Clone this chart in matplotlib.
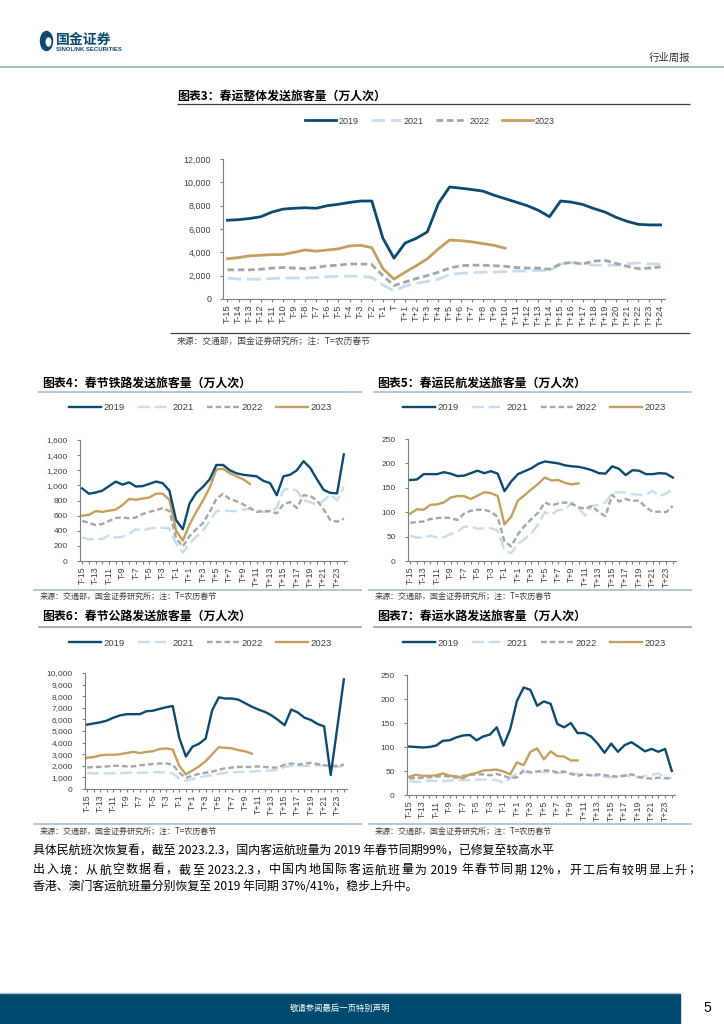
import re
import numpy as np
import matplotlib
matplotlib.use("Agg")
import matplotlib.pyplot as plt
from matplotlib.patches import Rectangle, Ellipse
from matplotlib.ticker import FuncFormatter

plt.rcParams["font.family"] = ["Liberation Sans", "Noto Sans CJK SC", "DejaVu Sans"]

W, H = 724, 1024

# x categories: T-15 ... T+24
days = [f"T{d:+d}" if d != 0 else "T" for d in range(-15, 25)]

# 图表3 春运整体
total_2019 = [6750, 6800, 6900, 7050, 7450, 7700, 7780, 7820, 7780, 8000,
              8120, 8280, 8400, 8400, 5200, 3500, 4800, 5200, 5750, 8200,
              9600, 9500, 9380, 9250, 8900, 8600, 8300, 8000, 7600, 7050,
              8400, 8300, 8100, 7750, 7450, 7000, 6650, 6400, 6350, 6350]
total_2021 = [1800, 1700, 1700, 1700, 1750, 1800, 1800, 1800, 1850, 1900,
              1950, 1950, 1950, 1850, 1200, 700, 1100, 1350, 1500, 1700,
              2100, 2200, 2250, 2300, 2300, 2350, 2400, 2400, 2450, 2450,
              3000, 3100, 3000, 2900, 2900, 2900, 3000, 3100, 3000, 3000]
total_2022 = [2500, 2500, 2500, 2550, 2650, 2700, 2650, 2600, 2700, 2850,
              2900, 3000, 3000, 2950, 2000, 1150, 1450, 1750, 2000, 2300,
              2650, 2850, 2900, 2900, 2850, 2800, 2700, 2650, 2650, 2550,
              3000, 3150, 3000, 3250, 3300, 3050, 2800, 2600, 2650, 2750]
total_2023 = [3450, 3550, 3700, 3750, 3800, 3820, 4000, 4200, 4100, 4200,
              4300, 4550, 4600, 4400, 2600, 1700, 2300, 2850, 3450, 4300,
              5050, 5000, 4900, 4750, 4600, 4350]

# 图表4 铁路
rail_2019 = [960, 890, 905, 930, 990, 1050, 1010, 1040, 985, 990,
             1020, 1050, 1030, 930, 540, 420, 760, 900, 980, 1080,
             1270, 1270, 1200, 1160, 1140, 1130, 1120, 1060, 1030, 870,
             1120, 1140, 1200, 1320, 1230, 1080, 940, 900, 895, 1410]
rail_2021 = [310, 285, 295, 290, 340, 310, 320, 360, 420, 400,
             430, 440, 440, 430, 230, 110, 230, 320, 400, 530,
             660, 670, 660, 660, 680, 690, 660, 650, 650, 700,
             940, 960, 930, 800, 780, 740, 800, 880, 800, 980]
rail_2022 = [530, 505, 475, 490, 530, 570, 575, 565, 575, 620,
             650, 670, 700, 660, 300, 190, 330, 420, 500, 650,
             820, 890, 820, 790, 750, 700, 650, 660, 660, 630,
             750, 780, 700, 870, 860, 800, 680, 540, 520, 560]
rail_2023 = [600, 610, 660, 650, 665, 680, 740, 820, 810, 825,
             840, 890, 890, 810, 400, 270, 480, 650, 800, 970,
             1210, 1220, 1160, 1120, 1080, 1020]

# 图表5 民航
air_2019 = [166, 167, 178, 178, 178, 182, 179, 174, 175, 180,
            185, 180, 184, 179, 143, 163, 178, 184, 190, 199,
            204, 202, 200, 196, 194, 193, 190, 186, 180, 179,
            194, 189, 176, 186, 185, 178, 178, 180, 179, 171]
air_2021 = [52, 48, 48, 52, 48, 49, 55, 60, 70, 71,
            66, 67, 67, 62, 22, 16, 35, 45, 57, 75,
            100, 95, 105, 105, 120, 108, 93, 113, 115, 120,
            140, 141, 140, 137, 136, 135, 144, 133, 138, 148]
air_2022 = [78, 80, 81, 86, 88, 89, 88, 84, 97, 103,
            105, 105, 101, 90, 40, 30, 55, 72, 86, 99,
            120, 114, 118, 120, 117, 110, 107, 113, 100, 92,
            136, 122, 127, 123, 124, 110, 101, 101, 100, 113]
air_2023 = [97, 106, 105, 115, 116, 120, 130, 133, 133, 127,
            134, 141, 139, 133, 75, 91, 124, 135, 147, 158,
            171, 165, 166, 160, 157, 159]

# 图表6 公路
road_2019 = [5550, 5650, 5750, 5900, 6150, 6350, 6450, 6450, 6450, 6700,
             6750, 6900, 7050, 7150, 4400, 2800, 3650, 3900, 4350, 6800,
             7900, 7800, 7800, 7700, 7400, 7100, 6850, 6650, 6350, 5950,
             5500, 6850, 6600, 6150, 5950, 5600, 5400, 1200, 5300, 9450]
road_2021 = [1400, 1350, 1350, 1350, 1350, 1350, 1400, 1400, 1400, 1400,
             1450, 1450, 1400, 1350, 900, 700, 850, 1000, 1100, 1200,
             1300, 1400, 1450, 1450, 1500, 1500, 1550, 1550, 1600, 1650,
             1900, 2000, 2000, 2000, 2000, 2050, 2000, 1950, 1900, 2000]
road_2022 = [1850, 1900, 1900, 1950, 2000, 2000, 1950, 1950, 2050, 2100,
             2150, 2200, 2200, 2100, 1400, 950, 1150, 1300, 1400, 1500,
             1650, 1800, 1850, 1900, 1900, 1900, 1950, 1900, 1850, 1850,
             2100, 2200, 2100, 2200, 2250, 2150, 2050, 2000, 2000, 2100]
road_2023 = [2700, 2750, 2900, 2950, 2950, 3000, 3100, 3200, 3100, 3200,
             3250, 3450, 3500, 3400, 2000, 1250, 1600, 1950, 2400, 3000,
             3600, 3550, 3500, 3350, 3250, 3050]

# 图表7 水路
water_2019 = [101, 100, 99, 100, 103, 113, 114, 120, 124, 125,
              114, 122, 126, 141, 103, 137, 196, 224, 219, 186,
              195, 190, 148, 141, 150, 129, 129, 122, 107, 88,
              107, 90, 104, 110, 101, 91, 96, 90, 96, 50]
water_2021 = [29, 27, 28, 30, 29, 29, 30, 31, 31, 31,
              32, 32, 32, 31, 25, 35, 45, 48, 47, 48,
              48, 47, 46, 47, 45, 44, 42, 41, 40, 38,
              37, 38, 42, 38, 36, 40, 42, 45, 37, 35]
water_2022 = [35, 35, 36, 37, 38, 40, 38, 36, 40, 42,
              43, 43, 41, 44, 40, 35, 37, 52, 47, 49,
              51, 51, 47, 49, 44, 40, 43, 41, 43, 41,
              40, 38, 40, 43, 38, 35, 34, 36, 35, 34]
water_2023 = [38, 42, 40, 40, 41, 45, 40, 39, 35, 43,
              46, 51, 52, 53, 49, 43, 68, 62, 90, 97,
              74, 91, 81, 80, 72, 72]

years = ["2019", "2021", "2022", "2023"]
colors = {"2019": "#0D4A70", "2021": "#C6DDF0", "2022": "#A6A6A6", "2023": "#C49F60"}
dashes = {"2019": None, "2021": [5, 2], "2022": [2.4, 1.3], "2023": None}

source = "来源：交通部，国金证券研究所；注：T=农历春节"

fig = plt.figure(figsize=(W / 100, H / 100), dpi=100)

# page overlay in pixel coordinates
page = fig.add_axes([0, 0, 1, 1])
page.set_xlim(0, W)
page.set_ylim(H, 0)
page.axis("off")


def px_axes(x0, y0, x1, y1):
    return fig.add_axes([x0 / W, 1 - y1 / H, (x1 - x0) / W, (y1 - y0) / H])


def hline(x0, x1, y, color, lw=1.0):
    page.plot([x0, x1], [y, y], color=color, lw=lw, solid_capstyle="butt")


def draw_chart(box, series, ymax, ystep, legend_xy, every, lw, fs_tick, fs_leg, comma):
    ax = px_axes(*box)
    x = np.arange(len(days))
    for yr in years:
        vals = series[yr]
        line, = ax.plot(x[:len(vals)], vals, color=colors[yr], lw=lw, label=yr,
                        solid_joinstyle="round")
        if dashes[yr]:
            line.set_dashes(dashes[yr])
    # 2019 on top
    ax.lines[0].set_zorder(5)
    ax.lines[3].set_zorder(4)
    ax.set_xlim(-0.4, len(days) - 0.6)
    ax.set_ylim(0, ymax)
    ax.set_yticks(np.arange(0, ymax + 1, ystep))
    if comma:
        ax.yaxis.set_major_formatter(FuncFormatter(lambda v, p: f"{int(v):,}"))
    ax.set_xticks(x)
    ax.set_xticklabels([d if i % every == 0 else "" for i, d in enumerate(days)],
                       rotation=90)
    for s in ["top", "right"]:
        ax.spines[s].set_visible(False)
    for s in ["left", "bottom"]:
        ax.spines[s].set_color("#7F7F7F")
        ax.spines[s].set_linewidth(0.8)
    ax.tick_params(axis="y", length=2.5, width=0.8, color="#7F7F7F",
                   labelsize=fs_tick, labelcolor="#404040", pad=6)
    ax.tick_params(axis="x", length=2.5, width=0.8, color="#7F7F7F",
                   labelsize=fs_tick + 0.3, labelcolor="#404040", pad=1.5)
    ax.set_facecolor("none")
    ax.legend(loc="center", bbox_to_anchor=(legend_xy[0] / W, 1 - legend_xy[1] / H),
              bbox_transform=fig.transFigure, ncol=4, frameon=False,
              fontsize=fs_leg, handlelength=3.4, handletextpad=0.25,
              columnspacing=1.4, labelcolor="#404040")
    return ax


def justified(y, txt, x0, x1, fs):
    # spread the pieces of one line evenly between x0 and x1
    renderer = fig.canvas.get_renderer()
    pieces = re.findall(r" ?[A-Za-z0-9.%/]+ ?|.", txt)
    items = []
    for p in pieces:
        t = page.text(0, y, p, fontsize=fs, color="black",
                      family=["Noto Sans CJK SC"], va="center")
        w = t.get_window_extent(renderer).width
        items.append((t, w))
    extra = (x1 - x0 - sum(w for _, w in items)) / (len(items) - 1)
    pos = x0
    for t, w in items:
        t.set_x(pos)
        pos += w + extra


# header
page.add_patch(Ellipse((46.5, 41), 12, 19, color="#0D4A70"))
page.add_patch(Ellipse((48.5, 42), 4.5, 8, color="white"))
page.text(56, 40, "国金证券", fontsize=10, fontweight="bold", color="#0D4A70",
          family=["Noto Sans CJK SC"], va="center")
page.text(56, 49.5, "SINOLINK SECURITIES", fontsize=4.3, fontweight="bold",
          color="#0D4A70", va="center")
page.text(690, 58, "行业周报", fontsize=7.5, color="#333333",
          family=["Noto Sans CJK SC"], ha="right", va="center")
hline(0, W, 67, "#A9BCCB", 1.5)

# chart 3
page.text(177, 96, "图表3：春运整体发送旅客量（万人次）", fontsize=8.6,
          fontweight="bold", style="italic", family=["Noto Sans CJK SC"], va="center")
hline(177, 690, 104, "#404040", 0.9)
draw_chart((223, 159, 665, 299),
           {"2019": total_2019, "2021": total_2021, "2022": total_2022, "2023": total_2023},
           12000, 2000, (430, 121), 1, 2.0, 6.4, 6.5, True)
hline(170, 690, 333, "#404040", 0.9)
page.text(177, 341, source, fontsize=6.3, color="#404040",
          family=["Noto Sans CJK SC"], va="center")

# small charts
small = [
    ("图表4：春节铁路发送旅客量（万人次）", (38, 362), 383, 392, "#A9BCCB",
     (79.5, 440, 346.5, 561), {"2019": rail_2019, "2021": rail_2021, "2022": rail_2022, "2023": rail_2023},
     1600, 200, (200, 408), True, 590, 596),
    ("图表5：春运民航发送旅客量（万人次）", (373, 692), 383, 392, "#A9BCCB",
     (407.5, 439, 675.5, 561), {"2019": air_2019, "2021": air_2021, "2022": air_2022, "2023": air_2023},
     250, 50, (534, 408), False, 590, 596),
    ("图表6：春节公路发送旅客量（万人次）", (38, 362), 616, 627, "#A0A0A0",
     (84.5, 673, 346.5, 789), {"2019": road_2019, "2021": road_2021, "2022": road_2022, "2023": road_2023},
     10000, 1000, (200, 643), True, 824, 831),
    ("图表7：春运水路发送旅客量（万人次）", (373, 692), 616, 627, "#A0A0A0",
     (406.5, 675, 674.5, 795), {"2019": water_2019, "2021": water_2021, "2022": water_2022, "2023": water_2023},
     250, 50, (534, 643), False, 824, 831),
]
for title, (lx0, lx1), ty, uy, ucol, box, series, ymax, ystep, legxy, comma, by, sy in small:
    page.text(lx0 + 4, ty, title, fontsize=8.6, fontweight="bold", style="italic",
              family=["Noto Sans CJK SC"], va="center")
    hline(lx0, lx1, uy, ucol, 1.2)
    draw_chart(box, series, ymax, ystep, legxy, 2, 1.7, 6.0, 6.8, comma)
    hline(lx0 - 5, lx1, by, "#A9BCCB", 1.2)
    page.text(lx0 + 2, sy, source, fontsize=5.8, color="#404040",
              family=["Noto Sans CJK SC"], va="center")

# body text
page.text(33, 850, "具体民航班次恢复看，截至 2023.2.3，国内客运航班量为 2019 年春节同期99%，已修复至较高水平",
          fontsize=8.6, color="black", family=["Noto Sans CJK SC"], va="center")
justified(870, "出入境：从航空数据看，截至 2023.2.3，中国内地国际客运航班量为 2019 年春节同期 12%，开工后有较明显上升；",
          33, 700, 8.6)
page.text(33, 887, "香港、澳门客运航班量分别恢复至 2019 年同期 37%/41%，稳步上升中。",
          fontsize=8.6, color="black", family=["Noto Sans CJK SC"], va="center")

# footer
page.add_patch(Rectangle((0, 994), 680, 29, color="#004A70"))
hline(0, 680, 993, "#A9BCCB", 1.0)
page.text(340, 1008, "敬请参阅最后一页特别声明", fontsize=6, color="white",
          family=["Noto Sans CJK SC"], ha="center", va="center")
page.text(707, 1008, "5", fontsize=10, color="black", ha="center", va="center")

fig.savefig("out.png", dpi=100)
